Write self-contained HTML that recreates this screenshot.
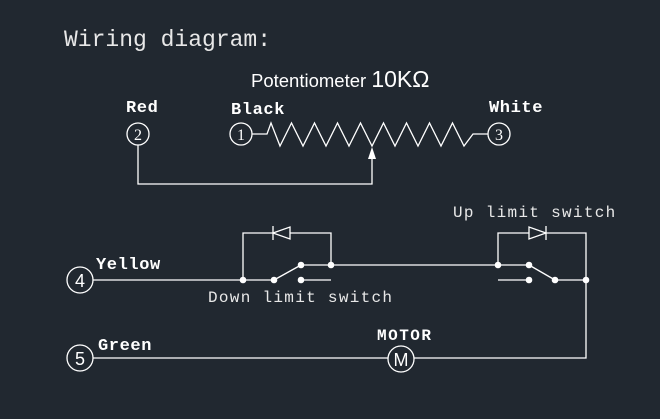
<!DOCTYPE html>
<html><head><style>
html,body{margin:0;padding:0;background:#212830;}
svg{display:block}
</style></head><body>
<svg width="660" height="419" viewBox="0 0 660 419" xmlns="http://www.w3.org/2000/svg">
<rect width="660" height="419" fill="#212830"/>
<g fill="#ffffff">
<text x="64" y="46" font-family="Liberation Mono, monospace" font-size="23" fill="#e8e8e8">Wiring diagram:</text>
<text x="251" y="87" font-family="Liberation Sans, sans-serif" font-size="18.5">Potentiometer <tspan font-size="23">10KΩ</tspan></text>
<g font-family="Liberation Mono, monospace" font-weight="bold" font-size="17" letter-spacing="0.6">
<text x="126" y="112">Red</text>
<text x="231" y="114">Black</text>
<text x="489" y="112">White</text>
<text x="96" y="269">Yellow</text>
<text x="98" y="350">Green</text>
<text x="377" y="340" font-size="16" letter-spacing="1.5">MOTOR</text>
</g>
<g font-family="Liberation Mono, monospace" font-size="16" letter-spacing="1.3" fill="#e8e8e8">
<text x="453" y="217">Up limit switch</text>
<text x="208" y="302">Down limit switch</text>
</g>
</g>
<g stroke="#ffffff" stroke-width="1.3" fill="none">
<circle cx="138" cy="134" r="11"/>
<circle cx="241" cy="134" r="11"/>
<circle cx="499" cy="134" r="11"/>
<polyline points="252,134 267,134 271,123 280,146 291.5,123 303,146 314.5,123 326,146 337.5,123 349,146 360.5,123 372,146 383.5,123 395,146 406.5,123 418,146 429.5,123 441,146 452.5,123 464,146 473,134 488,134"/>
<polyline points="372,158 372,184 138,184 138,145"/>
<circle cx="80" cy="280" r="13"/>
<circle cx="80" cy="358" r="13"/>
<circle cx="401" cy="359" r="13"/>
<line x1="93" y1="280" x2="274" y2="280"/>
<line x1="274" y1="280" x2="301" y2="265"/>
<line x1="301" y1="280" x2="331" y2="280"/>
<line x1="301" y1="265" x2="498" y2="265"/>
<polyline points="243,280 243,233 331,233 331,265"/>
<line x1="498" y1="265" x2="529" y2="265"/>
<line x1="529" y1="265" x2="555" y2="280"/>
<line x1="498" y1="280" x2="529" y2="280"/>
<line x1="555" y1="280" x2="586" y2="280"/>
<polyline points="498,265 498,233 586,233 586,358 414,358"/>
<line x1="388" y1="358" x2="93" y2="358"/>
<polygon points="273,233 290,227 290,239" fill="#212830"/>
<line x1="273" y1="226" x2="273" y2="240"/>
<polygon points="546,233 529,227 529,239" fill="#212830"/>
<line x1="546" y1="226" x2="546" y2="240"/>
</g>
<polygon points="372,147 368,159 376,159" fill="#fff"/>
<g fill="#fff">
<circle cx="243" cy="280" r="3.3"/><circle cx="274" cy="280" r="3.3"/><circle cx="301" cy="265" r="3.3"/>
<circle cx="301" cy="280" r="3.3"/><circle cx="331" cy="265" r="3.3"/><circle cx="498" cy="265" r="3.3"/>
<circle cx="529" cy="265" r="3.3"/><circle cx="529" cy="280" r="3.3"/><circle cx="555" cy="280" r="3.3"/>
<circle cx="586" cy="280" r="3.3"/>
</g>
<g font-family="Liberation Serif, serif" fill="#fff" text-anchor="middle">
<text x="138" y="140" font-size="16">2</text>
<text x="241" y="140" font-size="16">1</text>
<text x="499" y="140" font-size="16">3</text>
</g>
<g font-family="Liberation Sans, sans-serif" fill="#fff" text-anchor="middle">
<text x="80" y="287" font-size="18">4</text>
<text x="80" y="365" font-size="18">5</text>
<text x="401" y="366" font-size="18">M</text>
</g>
</svg>
</body></html>
